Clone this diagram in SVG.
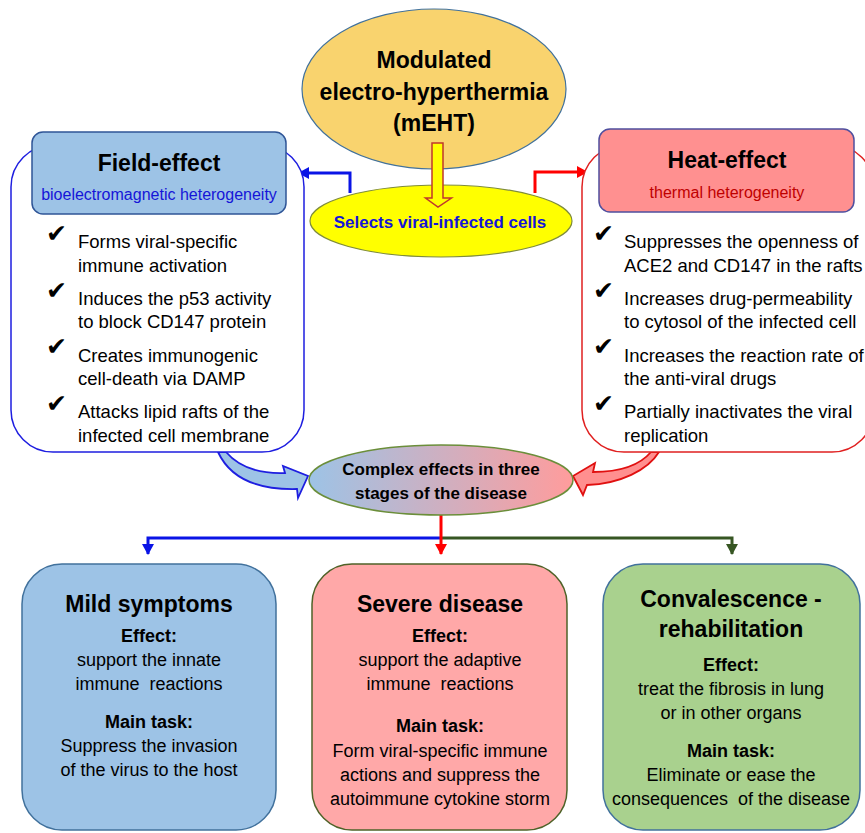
<svg xmlns="http://www.w3.org/2000/svg" width="865" height="833" viewBox="0 0 865 833">
<defs>
<style>
text{font-family:"Liberation Sans",Arial,sans-serif;fill:#000}
.h{font-size:23px;font-weight:bold;text-anchor:middle}
.b{font-size:18px;text-anchor:middle}
.bb{font-size:18px;font-weight:bold;text-anchor:middle}
.li{font-size:18.5px}
.ck{font-family:"DejaVu Sans",sans-serif;font-size:25px}
.conn{fill:none;stroke-width:3}
</style>
<linearGradient id="grad" x1="0" y1="0" x2="1" y2="0">
<stop offset="0" stop-color="#9DC3E6"/>
<stop offset="1" stop-color="#FF9C9C"/>
</linearGradient>
<marker id="aB" markerUnits="userSpaceOnUse" markerWidth="12" markerHeight="12" refX="10" refY="6" orient="auto"><path d="M0,0 L11,6 L0,12 Z" fill="#0A14E6"/></marker>
<marker id="aR" markerUnits="userSpaceOnUse" markerWidth="12" markerHeight="12" refX="10" refY="6" orient="auto"><path d="M0,0 L11,6 L0,12 Z" fill="#FF0000"/></marker>
<marker id="aG" markerUnits="userSpaceOnUse" markerWidth="12" markerHeight="12" refX="10" refY="6" orient="auto"><path d="M0,0 L11,6 L0,12 Z" fill="#375623"/></marker>
</defs>
<rect width="865" height="833" fill="#fff"/>

<g id="connectors">
<path class="conn" d="M350,193 V173 H299" stroke="#0A14E6" marker-end="url(#aB)"/>
<path class="conn" d="M535,193 V172 H587" stroke="#FF0000" marker-end="url(#aR)"/>
<path d="M218,452 C230,478 258,490 297,489 L298,498 L308,476 L283,466 L285,473 C258,474 238,466 226,452 Z" fill="#9DC3E6" stroke="#1E1EE0" stroke-width="1.8"/>
<path d="M651,452 C640,465 620,472 593,472 L595,463 L573,476 L583,495 L587,485 C620,484 648,470 659,452 Z" fill="#FF8F8F" stroke="#E01010" stroke-width="1.8"/>
<path class="conn" d="M441,538 H148 V554" stroke="#0A14E6" marker-end="url(#aB)"/>
<path class="conn" d="M441,538 H732 V554" stroke="#375623" marker-end="url(#aG)"/>
<path class="conn" d="M441,515 V554" stroke="#FF0000" marker-end="url(#aR)"/>
</g>

<g id="mEHT">
<ellipse cx="434" cy="89" rx="132" ry="80" fill="#F9D36E" stroke="#41719C" stroke-width="1.2"/>
<text class="h" x="434" y="68">Modulated</text>
<text class="h" x="434" y="100">electro-hyperthermia</text>
<text class="h" x="434" y="131">(mEHT)</text>
</g>

<g id="select">
<ellipse cx="441" cy="221" rx="131" ry="36" fill="#FFFF00" stroke="#7F8C3A" stroke-width="1.2"/>
<text x="440" y="228" style="font-size:17px;font-weight:bold;text-anchor:middle;fill:#1515D8">Selects viral-infected cells</text>
<path d="M432,143 H443 V198 H451.5 L438,207 L425.5,198 H432 Z" fill="#FFFF00" stroke="#C0392B" stroke-width="1.5"/>
</g>

<g id="field-effect">
<rect x="11" y="145" width="293" height="307" rx="42" fill="#fff" stroke="#1E1EE0" stroke-width="1.5"/>
<rect x="32" y="132" width="254" height="82" rx="11" fill="#9DC3E6" stroke="#2F5597" stroke-width="1.5"/>
<text class="h" x="159" y="171">Field-effect</text>
<text x="159" y="200" style="font-size:16px;text-anchor:middle;fill:#1515D8">bioelectromagnetic heterogeneity</text>
<text class="ck" x="46" y="242">✔</text>
<text class="ck" x="46" y="299">✔</text>
<text class="ck" x="46" y="355">✔</text>
<text class="ck" x="46" y="412">✔</text>
<text class="li" x="78" y="248">Forms viral-specific</text>
<text class="li" x="78" y="272">immune activation</text>
<text class="li" x="78" y="305">Induces the p53 activity</text>
<text class="li" x="78" y="328">to block CD147 protein</text>
<text class="li" x="78" y="362">Creates immunogenic</text>
<text class="li" x="78" y="385">cell-death via DAMP</text>
<text class="li" x="78" y="418">Attacks lipid rafts of the</text>
<text class="li" x="78" y="442">infected cell membrane</text>
</g>

<g id="heat-effect">
<rect x="582" y="145" width="292" height="307" rx="42" fill="#fff" stroke="#E02020" stroke-width="1.5"/>
<rect x="599" y="129" width="255" height="83" rx="11" fill="#FF9090" stroke="#4F4F9F" stroke-width="1.5"/>
<text class="h" x="727" y="168">Heat-effect</text>
<text x="727" y="198" style="font-size:16px;text-anchor:middle;fill:#C00000">thermal heterogeneity</text>
<text class="ck" x="593" y="242">✔</text>
<text class="ck" x="593" y="299">✔</text>
<text class="ck" x="593" y="355">✔</text>
<text class="ck" x="593" y="412">✔</text>
<text class="li" x="624" y="248">Suppresses the openness of</text>
<text class="li" x="624" y="272">ACE2 and CD147 in the rafts</text>
<text class="li" x="624" y="305">Increases drug-permeability</text>
<text class="li" x="624" y="328">to cytosol of the infected cell</text>
<text class="li" x="624" y="362">Increases the reaction rate of</text>
<text class="li" x="624" y="385">the anti-viral drugs</text>
<text class="li" x="624" y="418">Partially inactivates the viral</text>
<text class="li" x="624" y="442">replication</text>
</g>

<g id="complex">
<ellipse cx="441" cy="480" rx="132" ry="35" fill="url(#grad)" stroke="#6B8E3A" stroke-width="1.5"/>
<text x="441" y="475" style="font-size:17px;font-weight:bold;text-anchor:middle">Complex effects in three</text>
<text x="441" y="499" style="font-size:17px;font-weight:bold;text-anchor:middle">stages of the disease</text>
</g>

<g id="mild">
<rect x="22" y="564" width="254" height="266" rx="40" fill="#9DC3E6" stroke="#41719C" stroke-width="1.5"/>
<text class="h" x="149" y="612">Mild symptoms</text>
<text class="bb" x="149" y="642">Effect:</text>
<text class="b" x="149" y="666">support the innate</text>
<text class="b" x="149" y="690">immune&#160; reactions</text>
<text class="bb" x="149" y="728">Main task:</text>
<text class="b" x="149" y="752">Suppress the invasion</text>
<text class="b" x="149" y="776">of the virus to the host</text>
</g>

<g id="severe">
<rect x="312" y="564" width="255" height="266" rx="40" fill="#FFA8A8" stroke="#4F6228" stroke-width="1.5"/>
<text class="h" x="440" y="612">Severe disease</text>
<text class="bb" x="440" y="642">Effect:</text>
<text class="b" x="440" y="666">support the adaptive</text>
<text class="b" x="440" y="690">immune&#160; reactions</text>
<text class="bb" x="440" y="732">Main task:</text>
<text class="b" x="440" y="757">Form viral-specific immune</text>
<text class="b" x="440" y="781">actions and suppress the</text>
<text class="b" x="440" y="805">autoimmune cytokine storm</text>
</g>

<g id="convalescence">
<rect x="603" y="564" width="257" height="266" rx="40" fill="#A9D18E" stroke="#41719C" stroke-width="1.5"/>
<text class="h" x="731" y="607">Convalescence -</text>
<text class="h" x="731" y="637">rehabilitation</text>
<text class="bb" x="731" y="671">Effect:</text>
<text class="b" x="731" y="695">treat the fibrosis in lung</text>
<text class="b" x="731" y="719">or in other organs</text>
<text class="bb" x="731" y="757">Main task:</text>
<text class="b" x="731" y="781">Eliminate or ease the</text>
<text class="b" x="731" y="805">consequences&#160; of the disease</text>
</g>
</svg>
